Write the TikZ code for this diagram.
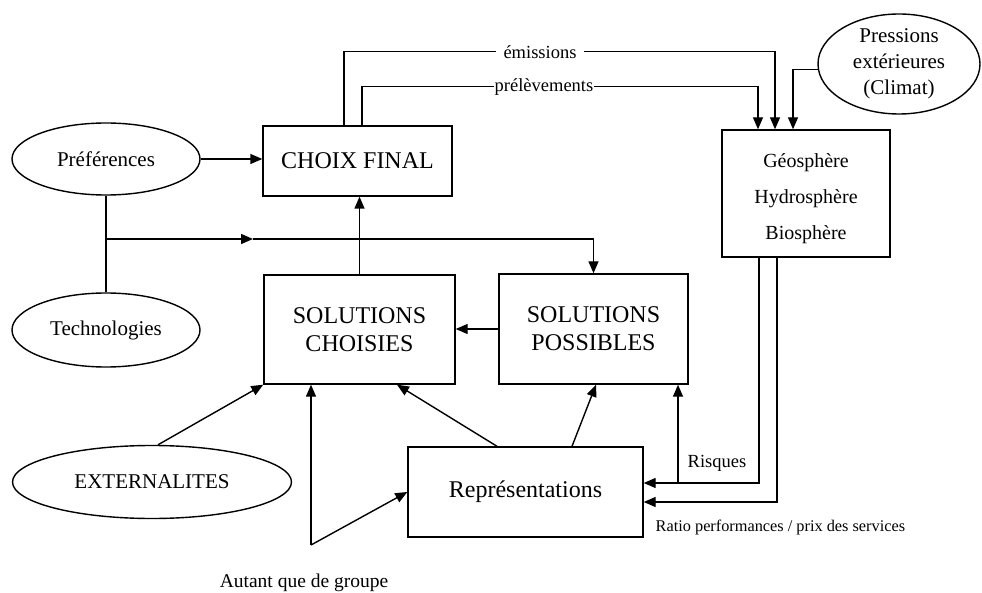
\documentclass[tikz,border=0pt]{standalone}
\usepackage{fontspec}
\setmainfont{Liberation Serif}
\usetikzlibrary{arrows.meta,shapes.geometric}
\begin{document}
\begin{tikzpicture}[x=1pt,y=-1pt,
  line width=1.4pt,
  arr/.style={-{Triangle[length=12pt,width=10pt]}},
  box/.style={draw, rectangle, inner sep=0pt, align=center},
  ell/.style={draw, ellipse, inner sep=0pt, align=center},
  big/.style={font=\fontsize{24}{28}\selectfont},
  med/.style={font=\fontsize{21}{26}\selectfont},
  geot/.style={font=\fontsize{20}{24}\selectfont},
  lbl/.style={font=\fontsize{18.5}{22}\selectfont},
]
\useasboundingbox (0,0) rectangle (982,593);

% ellipses
\node[ell, med, minimum width=188pt, minimum height=72pt] (pref) at (106,159) {Préférences};
\node[ell, med, minimum width=188pt, minimum height=74pt] (tech) at (106,330) {Technologies};
\node[ell, med, minimum width=279pt, minimum height=73pt] (ext) at (152,482) {EXTERNALITES};
\node[ell, med, minimum width=162pt, minimum height=100pt] (press) at (899,64) {Pressions\\extérieures\\(Climat)};

% boxes
\node[box, big, minimum width=189pt, minimum height=70pt] (choix) at (357.5,161) {CHOIX FINAL};
\node[box, big, minimum width=191pt, minimum height=109pt] (sc) at (359.5,329.5) {SOLUTIONS\\CHOISIES};
\node[box, big, minimum width=189pt, minimum height=110pt] (sp) at (593.5,329) {SOLUTIONS\\POSSIBLES};
\node[box, big, minimum width=235pt, minimum height=90pt] (rep) at (525.5,492) {Représentations};
\node[box, minimum width=168pt, minimum height=127pt] (geo) at (806,193.5) {};
\node[geot] (geo1) at (806,163) {Géosphère};
\node[geot] (geo2) at (806,199) {Hydrosphère};
\node[geot] (geo3) at (806,235) {Biosphère};

% helper coordinates
\coordinate (j) at (106,239);
\coordinate (jm) at (253,239);
\coordinate (cfE) at ([xshift=-13.5pt]choix.north);
\coordinate (cfP) at ([xshift=4.5pt]choix.north);
\coordinate (geoE) at ([xshift=-31pt]geo.north);
\coordinate (geoP) at ([xshift=-48pt]geo.north);
\coordinate (geoC) at ([xshift=-13pt]geo.north);
\coordinate (gR) at ([xshift=-47pt]geo.south);
\coordinate (gT) at ([xshift=-29pt]geo.south);
\coordinate (repR) at ([yshift=9pt]rep.east);
\coordinate (repT) at ([yshift=-10pt]rep.east);
\coordinate (spB) at ([xshift=84.5pt]sp.south);
\coordinate (spA) at ([xshift=2.5pt]sp.south);
\coordinate (repA) at ([xshift=-28.5pt]rep.north);
\coordinate (repB) at ([xshift=46.5pt]rep.north);
\coordinate (scB) at ([xshift=37.5pt]sc.south);
\coordinate (scV) at ([xshift=-48.5pt]sc.south);
\coordinate (extT) at ([xshift=6pt]ext.north);
\coordinate (vb) at (311,545);

% connectors
\draw[arr] (pref.east) -- (pref.east -| choix.west);
\draw (pref.south) -- (tech.north);
\draw[arr] (j) -- (jm);
\draw[arr] (jm) -- (jm -| sp.north) -- (sp.north);
\draw[arr] (sc.north) -- (sc.north |- choix.south);
\draw[arr] (sp.west) -- (sp.west -| sc.east);

\draw[arr] (cfE) -- ++(0,-74) -| (geoE);
\draw[arr] (cfP) -- ++(0,-39) -| (geoP);
\draw[arr] (press.184) -| (geoC);
\node[lbl, fill=white, inner xsep=8pt, inner ysep=1pt] (lblE) at (540,52) {émissions};
\node[lbl, fill=white, inner xsep=1pt, inner ysep=1pt] (lblP) at (544,87) {prélèvements};

\draw[arr] (gR) |- (repR);
\draw[arr] (gT) |- (repT);
\draw[arr] (spB |- repR) -- (spB);
\node[lbl] (risq) at (717,463) {Risques};
\node[font=\fontsize{16.3}{20}\selectfont, anchor=west, inner sep=0pt] (ratio) at (655,527) {Ratio performances / prix des services};

\draw[arr] (repA) -- (scB);
\draw[arr] (repB) -- (spA);
\draw[arr] (extT) -- (sc.south west);
\draw[arr] (vb) -- (scV);
\draw[arr] (vb) -- (rep.west);
\node[font=\fontsize{19.5}{23}\selectfont] (aut) at (304,583) {Autant que de groupe};
\end{tikzpicture}
\end{document}
